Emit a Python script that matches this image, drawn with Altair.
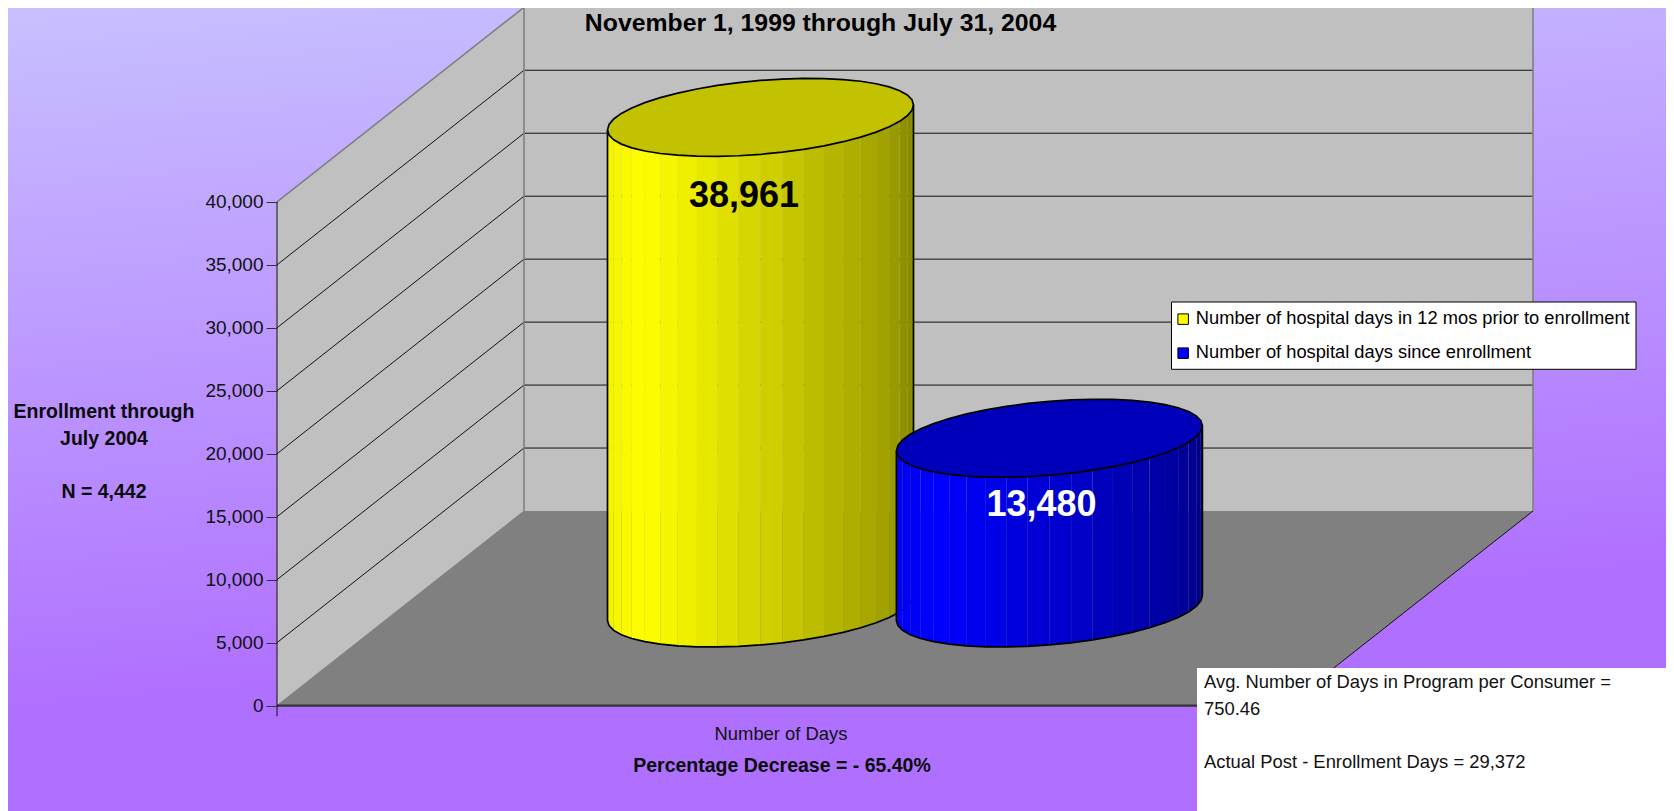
import numpy as np
import pandas as pd
import altair as alt

# ---- values
SERIES = ["Number of hospital days in 12 mos prior to enrollment",
          "Number of hospital days since enrollment"]
DAYS = [38961, 13480]
LABELS = ["38,961", "13,480"]
TICKS = [0, 5000, 10000, 15000, 20000, 25000, 30000, 35000, 40000]
SERIES_COLORS = ["#ffff00", "#0000ff"]
CAP_COLORS = ["#c2c200", "#0000bb"]
SIDE_RGB = [(255, 255, 0), (0, 0, 255)]

# ---- canvas and 3D projection
W, H = 1658, 803
OX = 8                      # page margin
FRONT_X, BACK_X, RIGHT_X = 277 - OX, 524 - OX, 1533 - OX
ZERO_PY = 705.6 - OX        # pixel of 0 on front axis
K = 503.7 / 40000           # pixels per day
DEPTH_X = BACK_X - FRONT_X
DEPTH_D = 194.6 / K         # depth rise, in days
TOP = 40000


def d_of(page_y):
    return (ZERO_PY - (page_y - OX)) / K


X = alt.Scale(domain=[0, W], range=[0, W], nice=False, zero=False)
Y = alt.Scale(domain=[d_of(OX + H), d_of(OX)], range=[H, 0], nice=False, zero=False)
Y_AXIS = alt.Axis(orient="left", offset=-FRONT_X, values=TICKS, format=",.0f", title=None,
                  domain=False, grid=False, tickSize=11, tickColor="#333333",
                  labelColor="#111111", labelFont="Liberation Sans",
                  labelFontSize=19, labelPadding=3, zindex=1, labelOverlap=False)


def xe(f="x"):
    return alt.X(f"{f}:Q", scale=X, axis=None)


def ye(f="d"):
    return alt.Y(f"{f}:Q", scale=Y, axis=Y_AXIS)


def poly(df, **kw):
    return alt.Chart(pd.DataFrame(df)).mark_area(**kw).encode(
        x=xe(), y=ye("d"), y2=alt.Y2("d2:Q"))


def line(pts, **kw):
    rows = [{"x": x, "d": d, "o": i} for i, (x, d) in enumerate(pts)]
    return alt.Chart(pd.DataFrame(rows)).mark_line(**kw).encode(
        x=xe(), y=ye(), order="o:Q")


layers = []

# gradient background
bg = alt.Chart(pd.DataFrame({"x": [0], "x2": [W], "d": [d_of(OX)], "d2": [d_of(OX + H)]})).mark_rect(
    fill=alt.LinearGradient(
        gradient="linear", x1=0, y1=0, x2=0.18, y2=1,
        stops=[alt.GradientStop(offset=0, color="#c8c0ff"),
               alt.GradientStop(offset=0.85, color="#b070ff"),
               alt.GradientStop(offset=1, color="#b070ff")])
).encode(x=xe(), x2="x2:Q", y=ye(), y2="d2:Q")
layers.append(bg)

# floor
floor_right = RIGHT_X - DEPTH_X
layers.append(poly({"x": [FRONT_X, BACK_X, floor_right, RIGHT_X],
                    "d": [0, DEPTH_D, DEPTH_D, DEPTH_D],
                    "d2": [0, 0, 0, DEPTH_D]}, color="#808080"))
# left wall
layers.append(poly({"x": [FRONT_X, BACK_X], "d": [TOP, TOP + DEPTH_D], "d2": [0, DEPTH_D]}, color="#c0c0c0"))
# back wall
layers.append(poly({"x": [BACK_X, RIGHT_X], "d": [TOP + DEPTH_D] * 2, "d2": [DEPTH_D] * 2}, color="#c0c0c0"))

# gridlines
for v in TICKS[1:-1]:
    layers.append(line([(FRONT_X, v), (BACK_X, v + DEPTH_D), (RIGHT_X, v + DEPTH_D)],
                       color="#111111", strokeWidth=1))

# wall borders
layers.append(line([(FRONT_X, TOP), (BACK_X, TOP + DEPTH_D), (RIGHT_X, TOP + DEPTH_D), (RIGHT_X, DEPTH_D)],
                   color="#808080", strokeWidth=1.6))
layers.append(line([(BACK_X, TOP + DEPTH_D), (BACK_X, DEPTH_D)], color="#808080", strokeWidth=1.6))
layers.append(line([(FRONT_X, 0), (BACK_X, DEPTH_D)], color="#808080", strokeWidth=1))
layers.append(line([(RIGHT_X, DEPTH_D), (floor_right, 0)], color="#111111", strokeWidth=1))
layers.append(line([(FRONT_X, 0), (floor_right, 0)], color="#333333", strokeWidth=2.2))
layers.append(line([(FRONT_X, TOP), (FRONT_X, -850)], color="#111111", strokeWidth=1))

# legend box
layers.append(alt.Chart(pd.DataFrame({"x": [1171.5 - OX], "x2": [1636 - OX],
                                      "d": [d_of(302)], "d2": [d_of(369.3)]}))
              .mark_rect(fill="#ffffff", stroke="#000000", strokeWidth=1)
              .encode(x=xe(), x2="x2:Q", y=ye(), y2="d2:Q"))

# legend carrier: small squares at the value, hidden behind the cylinders
CX = [760.5 - OX, 1049.4 - OX]
A = 153.0
SKEW = 12.5
HALF = 39.0
B = np.sqrt(HALF ** 2 - SKEW ** 2)
BASE_D = d_of(608)
NSTRIP = 22

legend_df = pd.DataFrame({"x": CX, "d": [BASE_D + v for v in DAYS], "series": SERIES})
layers.append(alt.Chart(legend_df).mark_square(size=1, opacity=1).encode(
    x=xe(), y=ye(),
    color=alt.Color("series:N", scale=alt.Scale(domain=SERIES, range=SERIES_COLORS),
                    legend=alt.Legend(orient="none", legendX=1174 - OX, legendY=310 - OX,
                                      title=None, symbolType="square", symbolSize=110,
                                      symbolStrokeColor="#000000", symbolStrokeWidth=1,
                                      symbolOpacity=1,
                                      labelFont="Liberation Sans", labelFontSize=18.3,
                                      labelColor="#000000", labelLimit=600, padding=0,
                                      rowPadding=15, labelOffset=3.5, zindex=1,
                                      values=SERIES))))

shade_u = [-1, -0.75, 0.36, 0.84, 1]
shade_b = [0.95, 1.0, 0.74, 0.62, 0.53]


def lower(u):
    return -SKEW * u + B * np.sqrt(np.clip(1 - u * u, 0, None))


def upper(u):
    return -SKEW * u - B * np.sqrt(np.clip(1 - u * u, 0, None))


for i in range(2):
    cx, v = CX[i], DAYS[i]
    top_c = BASE_D + v
    us = -np.cos(np.pi * np.arange(NSTRIP + 1) / NSTRIP)
    rows = []
    for j in range(NSTRIP):
        um = (us[j] + us[j + 1]) / 2
        br = float(np.interp(um, shade_u, shade_b))
        r, g, b = [int(round(c * br)) for c in SIDE_RGB[i]]
        col = f"#{r:02x}{g:02x}{b:02x}"
        for u in (us[j], us[j + 1]):
            rows.append({"x": cx + A * u, "d": top_c - lower(u) / K,
                         "d2": BASE_D - lower(u) / K, "strip": j, "shade": col})
    layers.append(alt.Chart(pd.DataFrame(rows)).mark_area().encode(
        x=xe(), y=ye(), y2="d2:Q", detail="strip:N", fill=alt.Fill("shade:N", scale=None)))
    # top cap
    layers.append(poly({"x": cx + A * us,
                        "d": top_c - upper(us) / K,
                        "d2": top_c - lower(us) / K}, color=CAP_COLORS[i]))
    # outlines
    cap_pts = [(cx + A * u, top_c - upper(u) / K) for u in us] + \
              [(cx + A * u, top_c - lower(u) / K) for u in us[::-1]]
    layers.append(line(cap_pts, color="#000000", strokeWidth=1.7))
    side_pts = [(cx - A, top_c - SKEW / K)] + \
               [(cx + A * u, BASE_D - lower(u) / K) for u in us] + \
               [(cx + A, top_c + SKEW / K)]
    layers.append(line(side_pts, color="#000000", strokeWidth=1.7))

# white note box
layers.append(alt.Chart(pd.DataFrame({"x": [1197 - OX], "x2": [W], "d": [d_of(668)], "d2": [d_of(OX + H)]}))
              .mark_rect(fill="#ffffff").encode(x=xe(), x2="x2:Q", y=ye(), y2="d2:Q"))


def text(items, weight="normal", size=17, color="#000000", align="left"):
    df = pd.DataFrame([{"x": x - OX, "d": d_of(y), "t": t} for x, y, t in items])
    return alt.Chart(df).mark_text(font="Liberation Sans", fontWeight=weight, fontSize=size,
                                   color=color, align=align, baseline="alphabetic").encode(
        x=xe(), y=ye(), text="t:N")


layers.append(text([(820.5, 31, "November 1, 1999 through July 31, 2004")], "bold", 24.8, align="center"))
layers.append(text([(744, 207, LABELS[0])], "bold", 36, align="center"))
layers.append(text([(1041.5, 516, LABELS[1])], "bold", 36, color="#ffffff", align="center"))
layers.append(text([(104, 418, "Enrollment through"), (104, 445, "July 2004"), (104, 498, "N = 4,442")],
                   "bold", 19.5, color="#0a0a0a", align="center"))
layers.append(text([(781, 740, "Number of Days")], "normal", 18.4, color="#111111", align="center"))
layers.append(text([(782, 771.5, "Percentage Decrease = - 65.40%")], "bold", 19.5, color="#0a0a0a", align="center"))
layers.append(text([(1204, 688, "Avg. Number of Days in Program per Consumer ="),
                    (1204, 715, "750.46"),
                    (1204, 767.5, "Actual Post - Enrollment Days = 29,372")], "normal", 18.4, color="#111111"))

chart = alt.layer(*layers).properties(
    width=W, height=H, padding=0,
    autosize=alt.AutoSizeParams(type="none", contains="padding"),
    background="#ffffff"
).configure_view(stroke=None, clip=False)

chart.save("out.html", embed_options={"renderer": "svg", "actions": False})
